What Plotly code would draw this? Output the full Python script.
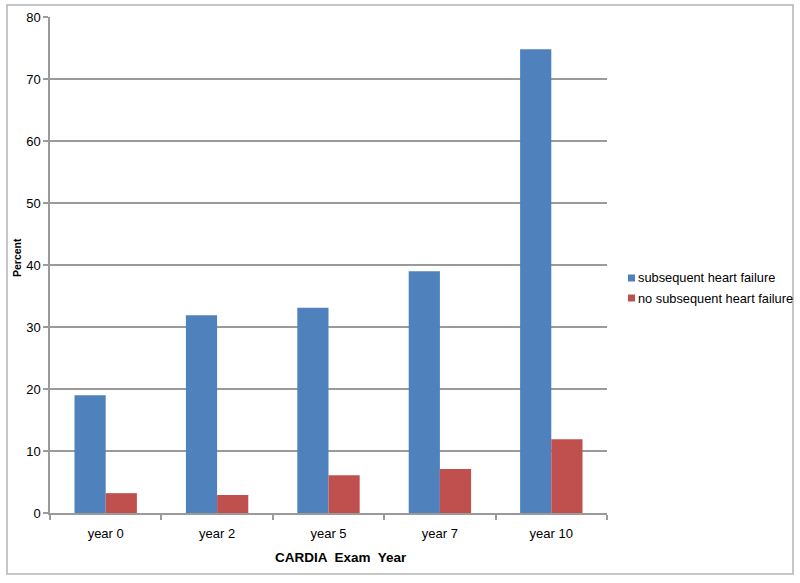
import plotly.graph_objects as go

categories = ["year 0", "year 2", "year 5", "year 7", "year 10"]
hf_values = [19.0, 31.9, 33.1, 39.0, 74.8]
no_hf_values = [3.2, 2.9, 6.1, 7.1, 11.9]
series_names = ["subsequent heart failure", "no subsequent heart failure"]
y_ticks = [0, 10, 20, 30, 40, 50, 60, 70, 80]
x_title = "CARDIA  Exam  Year"
y_title = "Percent"

BLUE = "#4F81BD"
RED = "#C0504D"
GRID = "#9a9a9a"
FONT = "Liberation Sans, Arial, sans-serif"

# plot-area geometry (pixels)
L, R, T, B = 50, 607, 17, 513
W, H = R - L, B - T


def px(x):
    return (x - L) / W


def py(y):
    return (B - y) / H


fig = go.Figure()
fig.add_trace(go.Bar(x=categories, y=hf_values, name=series_names[0],
                     marker=dict(color=BLUE, line=dict(width=0))))
fig.add_trace(go.Bar(x=categories, y=no_hf_values, name=series_names[1],
                     marker=dict(color=RED, line=dict(width=0))))

shapes = [dict(type="rect", xref="paper", yref="paper",
               x0=px(7), x1=px(793), y0=py(574), y1=py(5),
               line=dict(color="#b4b4b4", width=1.5), fillcolor="rgba(0,0,0,0)",
               layer="below")]
annotations = [
    dict(xref="paper", yref="paper", x=px(341), y=py(557), xanchor="center",
         yanchor="middle", showarrow=False, text="<b>" + x_title + "</b>",
         font=dict(size=13.5, color="#000")),
    dict(xref="paper", yref="paper", x=px(17), y=py(258), xanchor="center",
         yanchor="middle", showarrow=False, text="<b>" + y_title + "</b>",
         textangle=-90, font=dict(size=10.5, color="#000")),
]
for i, (name, col) in enumerate(zip(series_names, [BLUE, RED])):
    yc = 278 + 20 * i
    shapes.append(dict(type="rect", xref="paper", yref="paper",
                       x0=px(628), x1=px(635), y0=py(yc + 3.5), y1=py(yc - 3.5),
                       line=dict(width=0), fillcolor=col))
    annotations.append(dict(xref="paper", yref="paper", x=px(636), y=py(yc),
                            xanchor="left", yanchor="middle", showarrow=False,
                            text=name, font=dict(size=12.8, color="#000")))

fig.update_layout(
    width=800, height=583,
    margin=dict(l=L, r=800 - R, t=T, b=583 - B, autoexpand=False),
    paper_bgcolor="white", plot_bgcolor="white",
    font=dict(family=FONT, size=13, color="#000"),
    barmode="group", bargap=0.44, bargroupgap=0,
    showlegend=False,
    xaxis=dict(
        type="category", showline=True, linecolor=GRID, linewidth=1.5,
        ticks="outside", tickson="boundaries", ticklen=5, tickcolor=GRID,
        tickwidth=1.5, showgrid=False, tickfont=dict(size=13),
        ticklabelstandoff=8, automargin=False,
    ),
    yaxis=dict(
        range=[0, 80], tickvals=y_ticks, showline=True, linecolor=GRID, linewidth=1.5,
        ticks="outside", ticklen=5, tickcolor=GRID, tickwidth=1.5,
        showgrid=True, gridcolor=GRID, gridwidth=1.5, zeroline=False,
        tickfont=dict(size=13), automargin=False,
    ),
    shapes=shapes,
    annotations=annotations,
)

fig.write_html("out.html", config={"displayModeBar": False},
               post_script="document.body.style.margin='0';document.body.style.overflow='hidden';")
